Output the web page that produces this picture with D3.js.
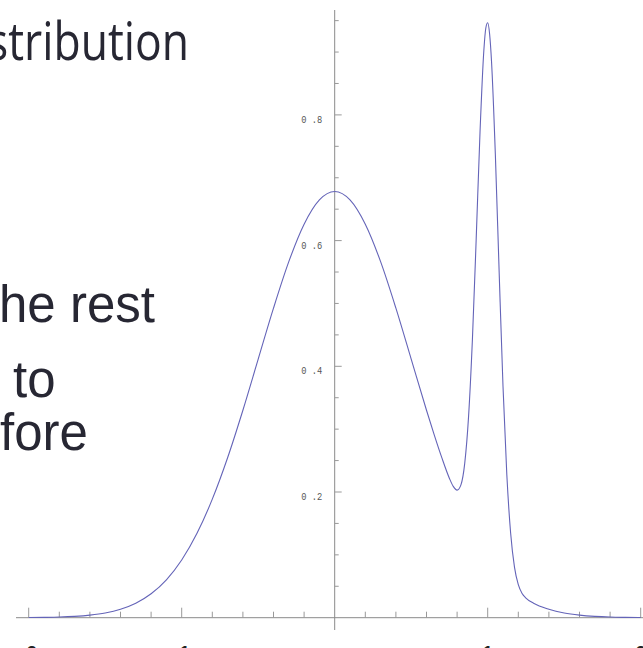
<!DOCTYPE html>
<html lang="en">
<head>
<meta charset="utf-8">
<title>bimodal density</title>
<script src="https://d3js.org/d3.v7.min.js"></script>
<style>
  body { margin: 0; background: #fff; }
  .slide { font-family: "Liberation Sans", Arial, sans-serif; fill: #272733; }
  .tick-label { font-family: "Liberation Mono", monospace; font-size: 10.5px; fill: #555; }
</style>
</head>
<body>
<svg id="chart" width="643" height="648"></svg>
<script>
// density (x, y)
var xs = [-2.0, -1.9, -1.8, -1.7, -1.6, -1.5, -1.4, -1.3, -1.2, -1.1, -1.0, -0.9, -0.8, -0.7, -0.6, -0.5, -0.4, -0.3, -0.2, -0.1,
          0.0, 0.1, 0.2, 0.3, 0.4, 0.5, 0.6, 0.65, 0.7, 0.75, 0.775, 0.8, 0.825, 0.85, 0.875, 0.9, 0.925, 0.95, 0.975, 0.9875,
          1.0, 1.0125, 1.025, 1.05, 1.075, 1.1, 1.125, 1.15, 1.175, 1.2, 1.225, 1.25, 1.3, 1.4, 1.5, 1.6, 1.7, 1.8, 1.9, 2.0];
var ys = [0.0002, 0.0005, 0.0010, 0.0021, 0.0041, 0.0075, 0.0135, 0.0231, 0.0381, 0.0603, 0.0918, 0.1342, 0.1886, 0.2545, 0.3301, 0.4114, 0.4925, 0.5665, 0.6261, 0.6648,
          0.6782, 0.6648, 0.6261, 0.5665, 0.4925, 0.4114, 0.3301, 0.2913, 0.2546, 0.2216, 0.2089, 0.2030, 0.2114, 0.2460, 0.3203, 0.4423, 0.6041, 0.7739, 0.9034, 0.9379,
          0.9467, 0.9287, 0.8851, 0.7372, 0.5488, 0.3684, 0.2276, 0.1343, 0.0805, 0.0525, 0.0386, 0.0313, 0.0231, 0.0135, 0.0075, 0.0041, 0.0021, 0.0010, 0.0005, 0.0002];

var yTickValues = [0.2, 0.4, 0.6, 0.8];
var xLabelValues = [-2, -1, 1, 2];

// cut-off slide text on the left
var slideLines = [
  { text: "stribution", x: -13, y: 60, size: 53, family: "'Open Sans', sans-serif", len: 202 },
  { text: "he rest", x: -1, y: 322, size: 51 },
  { text: "to", x: 13, y: 397, size: 51 },
  { text: "fore", x: 0, y: 450, size: 51 }
];

var svg = d3.select("#chart");

var x = d3.scaleLinear().domain([-2, 2]).range([28.7, 640.7]);
var y = d3.scaleLinear().domain([0, 1]).range([617.7, -10.8]);

// axes, Mathematica style
svg.append("line")
  .attr("x1", 16).attr("x2", 643)
  .attr("y1", y(0)).attr("y2", y(0))
  .attr("stroke", "#8a8a8a").attr("stroke-width", 1);

svg.append("line")
  .attr("x1", x(0)).attr("x2", x(0))
  .attr("y1", 10).attr("y2", 630)
  .attr("stroke", "#8a8a8a").attr("stroke-width", 1);

var xt = d3.range(-20, 21).map(function(i) { return i / 10; }).filter(function(i) { return Math.abs(i * 10) % 2 === 0 && i !== 0; });
svg.selectAll(".xtick")
  .data(xt)
  .enter().append("line")
  .attr("class", "xtick")
  .attr("x1", function(d) { return x(d); })
  .attr("x2", function(d) { return x(d); })
  .attr("y1", y(0))
  .attr("y2", function(d) { return y(0) - (Number.isInteger(d) ? 10 : 6); })
  .attr("stroke", "#999").attr("stroke-width", 1);

var yt = d3.range(1, 20).map(function(i) { return i / 20; });
svg.selectAll(".ytick")
  .data(yt)
  .enter().append("line")
  .attr("class", "ytick")
  .attr("x1", x(0))
  .attr("x2", function(d, i) { return x(0) + ((i + 1) % 4 === 0 ? 7 : 4); })
  .attr("y1", function(d) { return y(d); })
  .attr("y2", function(d) { return y(d); })
  .attr("stroke", "#999").attr("stroke-width", 1);

svg.selectAll(".tick-label")
  .data(yTickValues)
  .enter().append("text")
  .attr("class", "tick-label")
  .attr("x", x(0) - 33.5)
  .attr("y", function(d) { return y(d) + 8; })
  .attr("textLength", 21)
  .attr("lengthAdjust", "spacingAndGlyphs")
  .text(function(d) { return d3.format(".1f")(d).replace(".", " ."); });

// x labels, mostly below the picture edge
svg.selectAll(".xlabel")
  .data(xLabelValues)
  .enter().append("text")
  .attr("class", "xlabel")
  .attr("x", function(d) { return x(d); })
  .attr("y", 659)
  .attr("text-anchor", "middle")
  .style("font-family", "'Liberation Sans', sans-serif")
  .style("font-weight", "bold")
  .style("font-size", "18px")
  .style("fill", "#222")
  .text(function(d) { return d; });

// the density curve
var pts = xs.map(function(d, i) { return [d, ys[i]]; });
var line = d3.line()
  .x(function(d) { return x(d[0]); })
  .y(function(d) { return y(d[1]); })
  .curve(d3.curveMonotoneX);

svg.append("path")
  .datum(pts)
  .attr("d", line)
  .attr("fill", "none")
  .attr("stroke", "#6464b8")
  .attr("stroke-width", 1.1);

// slide text
slideLines.forEach(function(s) {
  var t = svg.append("text")
    .attr("class", "slide")
    .attr("x", s.x)
    .attr("y", s.y)
    .style("font-size", s.size + "px")
    .text(s.text);
  if (s.family) t.style("font-family", s.family);
  if (s.len) t.attr("textLength", s.len).attr("lengthAdjust", "spacingAndGlyphs");
});
</script>
</body>
</html>
